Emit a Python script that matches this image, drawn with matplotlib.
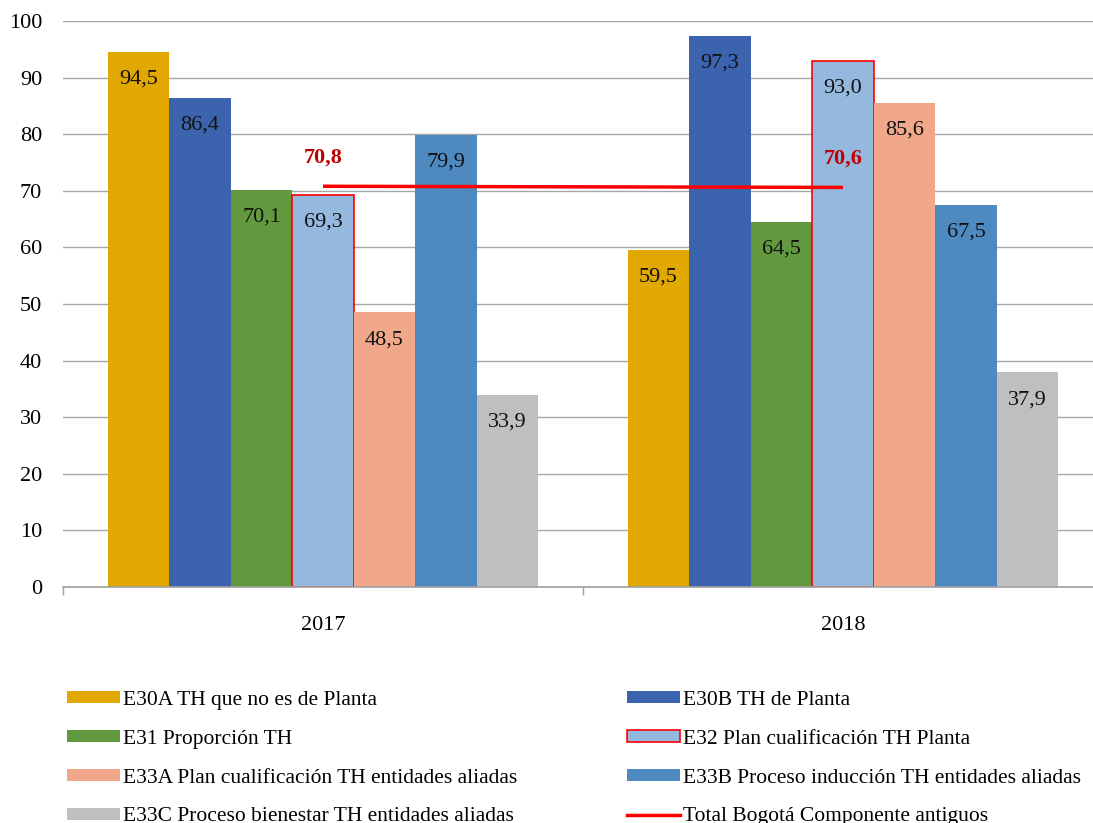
import matplotlib
matplotlib.use("Agg")
import matplotlib.pyplot as plt
from matplotlib.patches import Patch
from matplotlib.lines import Line2D
import numpy as np

plt.rcParams['font.family'] = ['Liberation Serif', 'DejaVu Serif']

years = ["2017", "2018"]
series = [
    "E30A TH que no es de Planta",
    "E30B TH de Planta",
    "E31 Proporción TH",
    "E32 Plan cualificación TH Planta",
    "E33A Plan cualificación TH entidades aliadas",
    "E33B Proceso inducción TH entidades aliadas",
    "E33C Proceso bienestar TH entidades aliadas",
]
values = [
    [94.5, 59.5],
    [86.4, 97.3],
    [70.1, 64.5],
    [69.3, 93.0],
    [48.5, 85.6],
    [79.9, 67.5],
    [33.9, 37.9],
]
total_label = "Total Bogotá Componente antiguos"
total_values = [70.8, 70.6]

colors = ["#E0A800", "#3C64AE", "#62993E", "#95B8DE", "#F1A78A", "#4E8AC0", "#BFBFBF"]
edges = [None, None, None, "#FF0000", None, None, None]

W, H = 1093, 823
fig = plt.figure(figsize=(W / 100, H / 100), dpi=100)
ax_left = 63
ax_top, ax_bottom = 21, 587
ax = fig.add_axes([ax_left / W, 1 - ax_bottom / H, (W - ax_left) / W, (ax_bottom - ax_top) / H])

x = np.arange(len(years))
n = len(series)
bw = 61.5 / 520
for i in range(n):
    pos = x + (i - (n - 1) / 2) * bw
    ec = edges[i] if edges[i] else colors[i]
    lw = 1.2 if edges[i] else 0
    ax.bar(pos, values[i], width=bw, color=colors[i], edgecolor=ec, linewidth=lw, zorder=2)
    for px_, v in zip(pos, values[i]):
        ax.annotate(f"{v:.1f}".replace(".", ","), (px_, v), xytext=(0, -19.5),
                    textcoords="offset points", ha="center", va="center",
                    fontsize=16, color="#111111", zorder=4)

ax.plot(x, total_values, color="#FF0000", linewidth=2.5, zorder=3, solid_capstyle="butt")
for xi, v in zip(x, total_values):
    ax.annotate(f"{v:.1f}".replace(".", ","), (xi, v), xytext=(0, 21),
                textcoords="offset points", ha="center", va="center",
                fontsize=16, fontweight="bold", color="#C00000", zorder=4)

ax.set_yticks(np.arange(0, 101, 10))
ax.set_xticks(x)
ax.set_xticklabels(years)
ax.set_xticks([-0.5, 0.5, 1.5], minor=True)
ax.set_ylim(0, 100)
ax.set_xlim(-0.5, -0.5 + (W - ax_left) / 520)
ax.tick_params(axis='x', which='major', length=0, pad=21, labelsize=16)
ax.tick_params(axis='x', which='minor', length=6, color="#A0A0A0", width=1)
ax.tick_params(axis='y', length=0, pad=15, labelsize=16)
ax.grid(axis='y', color="#A6A6A6", linewidth=1, zorder=0)
ax.set_axisbelow(True)
for s in ["top", "right", "left"]:
    ax.spines[s].set_visible(False)
ax.spines["bottom"].set_color("#A0A0A0")
ax.spines["bottom"].set_linewidth(1.2)

handles = []
for i in range(n):
    ec = edges[i] if edges[i] else colors[i]
    handles.append(Patch(facecolor=colors[i], edgecolor=ec, linewidth=1.2 if edges[i] else 0, label=series[i]))
handles.append(Line2D([0], [0], color="#FF0000", linewidth=2.5, label=total_label))

order = [0, 2, 4, 6, 1, 3, 5, 7]
hs = [handles[k] for k in order]
leg = fig.legend(handles=hs, labels=[h.get_label() for h in hs], ncol=2,
                 loc="upper left", bbox_to_anchor=(67 / W, 1 - 691 / H),
                 frameon=False, fontsize=15.5, handlelength=2.45, handleheight=0.5,
                 handletextpad=0.15, labelspacing=0.92, columnspacing=5.1,
                 borderaxespad=0, borderpad=0)

fig.savefig("out.png", dpi=100, facecolor="white")
